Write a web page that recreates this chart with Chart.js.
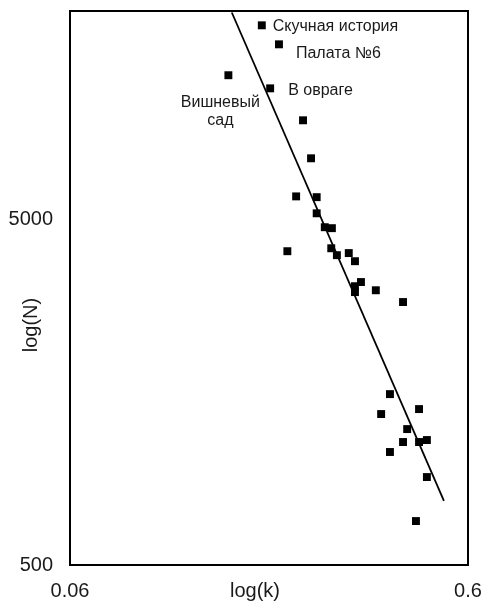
<!DOCTYPE html>
<html>
<head>
<meta charset="utf-8">
<script src="https://cdn.jsdelivr.net/npm/chart.js"></script>
<style>
  html, body { margin: 0; padding: 0; background: #fff; }
  #wrap { width: 487px; height: 605px; }
</style>
</head>
<body>
<div id="wrap"><canvas id="zipfChart" width="487" height="605"></canvas></div>
<script>
    // k and N for each story, the first four are the named ones
    const kValues = [0.182, 0.201, 0.150, 0.191, 0.231, 0.242, 0.222, 0.250, 0.250, 0.262,
                     0.273, 0.211, 0.272, 0.281, 0.301, 0.312, 0.323, 0.312, 0.312, 0.352,
                     0.412, 0.382, 0.363, 0.452, 0.422, 0.412, 0.452, 0.473, 0.382, 0.473, 0.444];
    const nValues = [18180, 16020, 13040, 11950, 9660, 7500, 5820, 5790, 5200, 4740,
                     4710, 4040, 4120, 3935, 3990, 3780, 3290, 3200, 3077, 3115,
                     2880, 1560, 1366, 1412, 1236, 1134, 1134, 1149, 1061, 898, 670];
    const storyNames = ['Скучная история', 'Палата №6', 'Вишневый\nсад', 'В овраге'];

    // fitted line, two ends
    const trendK = [0.153, 0.522];
    const trendN = [19800, 766];

    const xTicks = [0.06, 0.6];
    const yTicks = [500, 5000];

    const FONT = 'Liberation Sans, Arial, sans-serif';

    const labelOffsets = [
        { dx: 11, dy: 1, align: 'left' },
        { dx: 17, dy: 9, align: 'left' },
        { dx: -8, dy: 27, align: 'center' },
        { dx: 18, dy: 2, align: 'left' }
    ];

    const storyLabels = {
        id: 'storyLabels',
        afterDatasetsDraw(chart) {
            const ctx = chart.ctx;
            const pts = chart.getDatasetMeta(0).data;
            ctx.save();
            ctx.fillStyle = '#1a1a1a';
            ctx.font = '16px ' + FONT;
            ctx.textBaseline = 'middle';
            storyNames.forEach((name, i) => {
                const p = pts[i];
                const o = labelOffsets[i];
                ctx.textAlign = o.align;
                name.split('\n').forEach((line, j) => {
                    ctx.fillText(line, p.x + o.dx, p.y + o.dy + j * 18);
                });
            });
            ctx.restore();
        }
    };

    const frameAndTitles = {
        id: 'frameAndTitles',
        afterDraw(chart) {
            const ctx = chart.ctx;
            const a = chart.chartArea;
            ctx.save();
            ctx.strokeStyle = '#000';
            ctx.lineWidth = 2;
            ctx.strokeRect(a.left, a.top, a.right - a.left, a.bottom - a.top);

            ctx.fillStyle = '#1a1a1a';
            ctx.font = '20px ' + FONT;
            ctx.textAlign = 'center';
            ctx.textBaseline = 'middle';
            ctx.fillText('log(k)', 255, 591);
            ctx.translate(31, 325);
            ctx.rotate(-Math.PI / 2);
            ctx.fillText('log(N)', 0, 0);
            ctx.restore();
        }
    };

    const ctx = document.getElementById('zipfChart').getContext('2d');

    const zipfChart = new Chart(ctx, {
        type: 'scatter',
        data: {
            datasets: [{
                label: 'stories',
                data: kValues.map((k, i) => ({ x: k, y: nValues[i] })),
                backgroundColor: '#000',
                borderWidth: 0,
                pointStyle: 'rect',
                pointRadius: 5.6,
                order: 1
            }, {
                label: 'fit',
                type: 'line',
                data: trendK.map((k, i) => ({ x: k, y: trendN[i] })),
                borderColor: '#000',
                borderWidth: 1.8,
                pointRadius: 0,
                fill: false,
                order: 2
            }]
        },
        options: {
            responsive: false,
            animation: false,
            layout: { padding: { top: 11, right: 19, left: 0, bottom: 0 } },
            plugins: {
                legend: { display: false },
                tooltip: { enabled: false }
            },
            scales: {
                x: {
                    type: 'logarithmic',
                    min: 0.06,
                    max: 0.6,
                    grid: { display: false },
                    border: { display: false },
                    ticks: {
                        color: '#1a1a1a',
                        font: { size: 20, family: FONT },
                        padding: 6,
                        maxRotation: 0,
                        autoSkip: false,
                        callback: v => String(v)
                    },
                    afterBuildTicks: s => { s.ticks = xTicks.map(v => ({ value: v })); },
                    afterFit: s => {
                        s.height = 40;
                        s.paddingLeft = 0;
                        s.paddingRight = 0;
                    }
                },
                y: {
                    type: 'logarithmic',
                    min: 500,
                    max: 20000,
                    grid: { display: false },
                    border: { display: false },
                    ticks: {
                        color: '#1a1a1a',
                        font: { size: 20, family: FONT },
                        padding: 9,
                        autoSkip: false,
                        callback: v => String(v)
                    },
                    afterBuildTicks: s => { s.ticks = yTicks.map(v => ({ value: v })); },
                    afterFit: s => {
                        s.width = 70;
                        s.paddingTop = 0;
                        s.paddingBottom = 0;
                    }
                }
            }
        },
        plugins: [storyLabels, frameAndTitles]
    });
</script>
</body>
</html>
